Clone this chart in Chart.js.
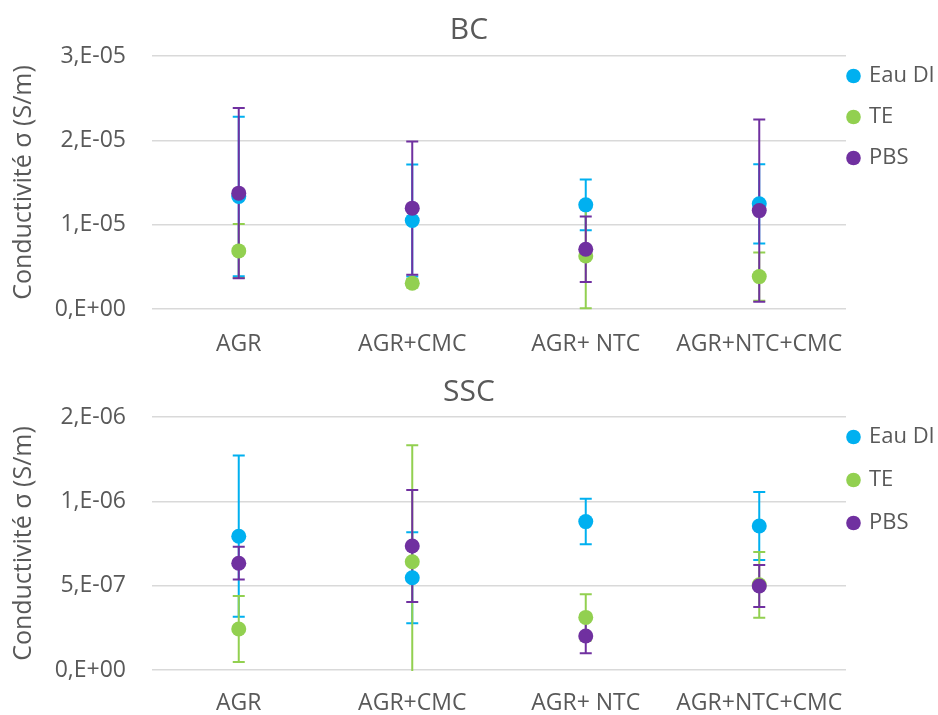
<!DOCTYPE html>
<html>
<head>
<meta charset="utf-8">
<script src="https://cdn.jsdelivr.net/npm/chart.js@4.4.0/dist/chart.umd.min.js"></script>
<style>
  body { margin: 0; background: #fff; }
  canvas { display: block; }
</style>
</head>
<body>
<canvas id="bcChart" width="938" height="360"></canvas>
<canvas id="sscChart" width="938" height="355"></canvas>
<script>
const categories = ["AGR", "AGR+CMC", "AGR+ NTC", "AGR+NTC+CMC"];
const seriesNames = ["Eau DI", "TE", "PBS"];
const seriesColors = ["#00B0F0", "#92D050", "#7030A0"];

// BC
const bcEauDI = [1.334e-5, 1.049e-5, 1.235e-5, 1.247e-5];
const bcEauDIErr = [0.945e-5, 0.665e-5, 0.30e-5, 0.47e-5];
const bcTE = [0.689e-5, 0.305e-5, 0.629e-5, 0.384e-5];
const bcTEErr = [0.32e-5, 0.05e-5, 0.62e-5, 0.285e-5];
const bcPBS = [1.374e-5, 1.196e-5, 0.709e-5, 1.167e-5];
const bcPBSErr = [1.01e-5, 0.79e-5, 0.388e-5, 1.08e-5];
const bcTicks = ["0,E+00", "1,E-05", "2,E-05", "3,E-05"];

// SSC
const sscEauDI = [7.93e-7, 5.47e-7, 8.80e-7, 8.54e-7];
const sscEauDIErr = [4.78e-7, 2.70e-7, 1.35e-7, 2.02e-7];
const sscTE = [2.43e-7, 6.42e-7, 3.12e-7, 5.05e-7];
const sscTEErr = [1.95e-7, 6.90e-7, 1.37e-7, 1.95e-7];
const sscPBS = [6.33e-7, 7.35e-7, 2.02e-7, 4.98e-7];
const sscPBSErr = [0.97e-7, 3.32e-7, 1.03e-7, 1.25e-7];
const sscTicks = ["0,E+00", "5,E-07", "1,E-06", "2,E-06"];

const textColor = "#595959";
const fontFamily = "'Open Sans', sans-serif";

// error bars drawn under the points
const errorBars = {
  id: "errorBars",
  beforeDatasetsDraw(chart) {
    const ctx = chart.ctx;
    const area = chart.chartArea;
    const yScale = chart.scales.y;
    ctx.save();
    ctx.beginPath();
    ctx.rect(area.left, area.top - 1, area.right - area.left, area.bottom - area.top + 2);
    ctx.clip();
    ctx.lineWidth = 2;
    chart.data.datasets.forEach(function (ds, i) {
      const meta = chart.getDatasetMeta(i);
      ctx.strokeStyle = ds.backgroundColor;
      meta.data.forEach(function (pt, j) {
        const v = ds.data[j];
        const e = ds.errors[j];
        const top = yScale.getPixelForValue(v + e);
        const bot = yScale.getPixelForValue(v - e);
        ctx.beginPath();
        ctx.moveTo(pt.x, top);
        ctx.lineTo(pt.x, bot);
        ctx.moveTo(pt.x - 6, top);
        ctx.lineTo(pt.x + 6, top);
        ctx.moveTo(pt.x - 6, bot);
        ctx.lineTo(pt.x + 6, bot);
        ctx.stroke();
      });
    });
    ctx.restore();
  },
};

// legend on the right, next to the plot
const sideLegend = {
  id: "sideLegend",
  afterDraw(chart, args, opts) {
    const ctx = chart.ctx;
    const area = chart.chartArea;
    ctx.save();
    ctx.font = "22px " + fontFamily;
    ctx.textBaseline = "middle";
    chart.data.datasets.forEach(function (ds, i) {
      const y = area.top + 20 + i * opts.gap;
      ctx.fillStyle = ds.backgroundColor;
      ctx.beginPath();
      ctx.arc(area.right + 7.5, y, 7.3, 0, Math.PI * 2);
      ctx.fill();
      ctx.fillStyle = textColor;
      ctx.fillText(ds.label, area.right + 23, y);
    });
    ctx.restore();
  },
};

function makeChart(id, title, values, errors, tickLabels, yMax, step, box) {
  const datasets = values.map(function (vals, i) {
    return {
      label: seriesNames[i],
      data: vals,
      errors: errors[i],
      backgroundColor: seriesColors[i],
      borderColor: seriesColors[i],
      showLine: false,
      pointRadius: 7.5,
      pointHoverRadius: 7.5,
      pointBorderWidth: 0,
      order: 3 - i,
    };
  });
  return new Chart(document.getElementById(id), {
    type: "line",
    data: { labels: categories, datasets: datasets },
    options: {
      responsive: false,
      animation: false,
      layout: { padding: 0 },
      plugins: {
        legend: { display: false },
        tooltip: { enabled: false },
        sideLegend: { gap: box.legendGap },
        title: {
          display: true,
          text: title,
          color: textColor,
          font: { family: fontFamily, size: 30, weight: "normal" },
          padding: { top: box.titleTop, bottom: box.titleBottom },
        },
      },
      scales: {
        x: {
          offset: true,
          afterFit: function (axis) { axis.height = box.xHeight; },
          grid: { display: false, drawTicks: false },
          border: { display: false },
          ticks: {
            color: textColor,
            font: { family: fontFamily, size: 23 },
            padding: box.xPad,
          },
        },
        y: {
          min: 0,
          max: yMax,
          afterFit: function (axis) { axis.width = 152; },
          grid: { color: "#D9D9D9", lineWidth: 1.5, drawTicks: false },
          border: { display: false },
          ticks: {
            stepSize: step,
            color: textColor,
            font: { family: fontFamily, size: 23 },
            padding: 26,
            callback: function (value, index) { return tickLabels[index]; },
          },
          title: {
            display: true,
            text: "Conductivité σ (S/m)",
            color: textColor,
            font: { family: fontFamily, size: 25 },
            padding: { top: 9, bottom: 0 },
          },
        },
        // empty right-hand box that leaves room for the legend
        side: {
          position: "right",
          afterFit: function (axis) { axis.width = 92; },
          grid: { display: false, drawTicks: false },
          border: { display: false },
          ticks: { display: false },
        },
      },
    },
    plugins: [errorBars, sideLegend],
  });
}

makeChart("bcChart", "BC",
  [bcEauDI, bcTE, bcPBS], [bcEauDIErr, bcTEErr, bcPBSErr],
  bcTicks, 3e-5, 1e-5,
  { titleTop: 12, titleBottom: 8, xHeight: 51, xPad: 22, legendGap: 41 });

makeChart("sscChart", "SSC",
  [sscEauDI, sscTE, sscPBS], [sscEauDIErr, sscTEErr, sscPBSErr],
  sscTicks, 1.5e-6, 5e-7,
  { titleTop: 14, titleBottom: 7, xHeight: 45, xPad: 20, legendGap: 43 });
</script>
</body>
</html>
